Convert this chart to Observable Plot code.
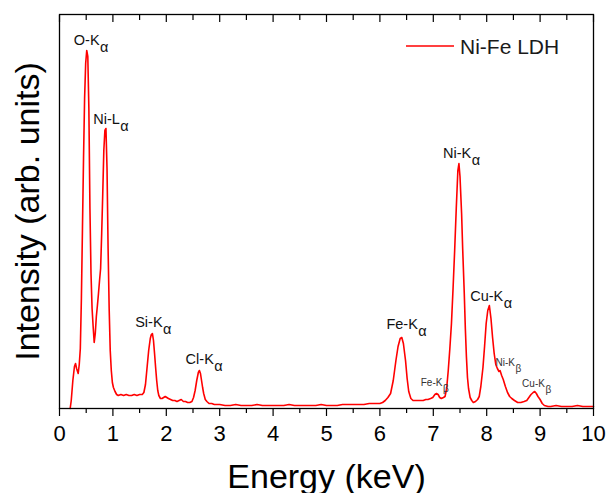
<!DOCTYPE html>
<html>
<head>
<meta charset="utf-8">
<script src="https://cdn.jsdelivr.net/npm/d3@7"></script>
<script src="https://cdn.jsdelivr.net/npm/@observablehq/plot@0.6"></script>
<style>
  html, body { margin: 0; padding: 0; background: #fff; }
  #chart svg { display: block; }
</style>
</head>
<body>
<div id="chart"></div>
<script>
// ---- Data (energy in keV, intensity in arb. units) ----
const energy = [
  0.20, 0.22, 0.25, 0.28, 0.30, 0.32, 0.35, 0.37, 0.39, 0.41, 0.43, 0.45, 0.47, 0.49, 0.51, 0.53, 0.55, 0.57, 0.59,
  0.61, 0.63, 0.65, 0.67, 0.69, 0.71, 0.73, 0.75, 0.77, 0.79, 0.81, 0.83, 0.85, 0.87, 0.89, 0.91, 0.93, 0.95, 0.97,
  0.99, 1.01, 1.04, 1.07, 1.10, 1.15, 1.20, 1.25, 1.30, 1.35, 1.40, 1.45, 1.50, 1.55, 1.58, 1.61, 1.64, 1.67, 1.70,
  1.72, 1.74, 1.76, 1.78, 1.80, 1.82, 1.84, 1.86, 1.89, 1.92, 1.95, 1.98, 2.01, 2.04, 2.08, 2.12, 2.16, 2.20, 2.24,
  2.28, 2.32, 2.36, 2.40, 2.44, 2.48, 2.51, 2.54, 2.57, 2.60, 2.62, 2.64, 2.66, 2.68, 2.70, 2.73, 2.76, 2.80, 2.85,
  2.90, 3.00, 3.10, 3.20, 3.30, 3.40, 3.50, 3.60, 3.70, 3.80, 3.90, 4.00, 4.10, 4.20, 4.30, 4.40, 4.50, 4.60, 4.70,
  4.80, 4.90, 5.00, 5.10, 5.20, 5.30, 5.40, 5.50, 5.60, 5.70, 5.80, 5.90, 6.00, 6.05, 6.10, 6.15, 6.20, 6.25, 6.30,
  6.34, 6.38, 6.41, 6.44, 6.48, 6.51, 6.54, 6.58, 6.62, 6.66, 6.71, 6.76, 6.81, 6.86, 6.90, 6.95, 6.99, 7.03, 7.06,
  7.09, 7.12, 7.15, 7.19, 7.22, 7.25, 7.28, 7.31, 7.34, 7.37, 7.40, 7.43, 7.46, 7.48, 7.50, 7.53, 7.55, 7.58, 7.60,
  7.62, 7.64, 7.66, 7.69, 7.72, 7.75, 7.79, 7.83, 7.86, 7.89, 7.93, 7.96, 7.99, 8.02, 8.05, 8.08, 8.11, 8.14, 8.17,
  8.20, 8.23, 8.25, 8.28, 8.31, 8.35, 8.39, 8.43, 8.47, 8.52, 8.58, 8.64, 8.70, 8.75, 8.79, 8.83, 8.87, 8.90, 8.93,
  8.96, 9.00, 9.04, 9.08, 9.15, 9.20, 9.30, 9.40, 9.50, 9.60, 9.70, 9.80, 9.90, 10.00
];
const intensity = [
  0, 8, 28, 42, 45, 40, 35, 44, 60, 110, 180, 250, 310, 345, 358, 352, 300, 200, 135,
  100, 82, 66, 75, 92, 103, 115, 128, 140, 175, 215, 258, 278, 280, 240, 160, 100, 58, 38,
  26, 21, 17, 14, 13, 14, 13, 14, 13, 13, 14, 13, 14, 14, 16, 24, 41, 58, 70,
  74, 75, 68, 55, 41, 28, 18, 13, 10, 10, 11, 12, 11, 10, 9, 8, 8, 7, 8,
  9, 7, 7, 6, 6, 7, 11, 18, 28, 36, 38, 35, 28, 21, 15, 9, 7, 5, 5,
  4, 4, 3, 3, 4, 3, 3, 3, 4, 3, 3, 3, 3, 3, 4, 3, 3, 3, 3,
  3, 4, 3, 3, 3, 4, 4, 4, 4, 4, 5, 5, 5, 6, 8, 11, 15, 28, 48,
  62, 70, 71, 65, 48, 30, 17, 10, 8, 8, 8, 8, 8, 9, 9, 10, 11, 14, 15,
  14, 11, 10, 11, 12, 20, 38, 60, 85, 120, 158, 200, 238, 245, 232, 195, 160, 115, 80,
  52, 31, 20, 11, 8, 6, 7, 9, 12, 22, 41, 62, 85, 98, 103, 90, 71, 55, 44,
  40, 37, 38, 33, 29, 22, 16, 12, 10, 8, 6, 6, 7, 8, 11, 14, 16, 17, 15,
  12, 9, 5, 3, 2, 2, 3, 2, 2, 2, 3, 2, 2, 2
];
const seriesName = "Ni-Fe LDH";

const xTicks = [0, 1, 2, 3, 4, 5, 6, 7, 8, 9, 10];
const xMinorTicks = [0.5, 1.5, 2.5, 3.5, 4.5, 5.5, 6.5, 7.5, 8.5, 9.5];

// Peak annotations: main text, subscript, anchor (energy, intensity) of the label
const alphaNames = ["O-K", "Ni-L", "Si-K", "Cl-K", "Fe-K", "Ni-K", "Cu-K"];
const alphaSub = ["α", "α", "α", "α", "α", "α", "α"];
const alphaEnergy = [0.75, 1.13, 1.93, 2.89, 6.71, 7.71, 8.31];
const alphaIntensity = [364, 285, 82, 45, 80, 251, 108];

const betaNames = ["Fe-K", "Ni-K", "Cu-K"];
const betaSub = ["β", "β", "β"];
const betaEnergy = [7.17, 8.53, 9.09];
const betaIntensity = [23, 43, 22];

const xLabel = "Energy (keV)";
const yLabel = "Intensity (arb. units)";

// ---- Build ----
const spectrum = energy.map((e, i) => ({energy: e, intensity: intensity[i]}));
const alphaIdx = d3.range(alphaNames.length);
const betaIdx = d3.range(betaNames.length);

const FONT = "'Liberation Sans', Arial, Helvetica, sans-serif";

function legend(index, scales, values, dims) {
  const right = dims.width - dims.marginRight;
  const g = d3.create("svg:g");
  g.append("line")
    .attr("x1", right - 187).attr("x2", right - 139)
    .attr("y1", dims.marginTop + 32).attr("y2", dims.marginTop + 32)
    .attr("stroke", "#ff0000").attr("stroke-width", 1.6);
  g.append("text")
    .attr("x", right - 133).attr("y", dims.marginTop + 40)
    .attr("text-anchor", "start")
    .attr("font-size", 21).attr("fill", "#1a1a1a")
    .attr("font-family", FONT)
    .text(seriesName);
  return g.node();
}

const chart = Plot.plot({
  width: 606,
  height: 493,
  marginLeft: 59,
  marginRight: 13,
  marginTop: 14,
  marginBottom: 85,
  x: {domain: [0, 10]},
  y: {domain: [0, 394], axis: null},
  style: {fontFamily: FONT, background: "#fff", color: "#000", overflow: "visible"},
  marks: [
    Plot.line(spectrum, {x: "energy", y: "intensity", stroke: "#ff0000", strokeWidth: 1.6}),
    Plot.axisX({ticks: xTicks, tickSize: 8, tickPadding: 9, fontSize: 22, label: null, tickFormat: d => String(d), strokeWidth: 1.2}),
    Plot.axisX({ticks: xMinorTicks, tickSize: 5, text: null, label: null, strokeWidth: 1.2}),
    Plot.axisX({anchor: "top", ticks: xTicks, tickSize: -7, text: null, label: null, strokeWidth: 1.2}),
    Plot.axisX({anchor: "top", ticks: xMinorTicks, tickSize: -5, text: null, label: null, strokeWidth: 1.2}),
    Plot.frame({stroke: "#000", strokeWidth: 1.3}),
    // alpha labels
    Plot.text(alphaIdx, {x: i => alphaEnergy[i], y: i => alphaIntensity[i], text: i => alphaNames[i],
      textAnchor: "end", lineAnchor: "bottom", fontSize: 14.5, fill: "#111"}),
    Plot.text(alphaIdx, {x: i => alphaEnergy[i], y: i => alphaIntensity[i], text: i => alphaSub[i],
      textAnchor: "start", lineAnchor: "bottom", dy: 7, dx: 0.5, fontSize: 14.5, fill: "#111"}),
    // beta labels
    Plot.text(betaIdx, {x: i => betaEnergy[i], y: i => betaIntensity[i], text: i => betaNames[i],
      textAnchor: "end", lineAnchor: "bottom", fontSize: 10, fill: "#333"}),
    Plot.text(betaIdx, {x: i => betaEnergy[i], y: i => betaIntensity[i], text: i => betaSub[i],
      textAnchor: "start", lineAnchor: "bottom", dy: 6, dx: 0.5, fontSize: 10, fill: "#333"}),
    // axis titles
    Plot.text([xLabel], {frameAnchor: "bottom", lineAnchor: "bottom", dy: 79, fontSize: 34, fill: "#000"}),
    Plot.text([yLabel], {frameAnchor: "left", textAnchor: "middle", rotate: -90, dx: -31, fontSize: 34, fill: "#000"}),
    legend
  ]
});
document.getElementById("chart").appendChild(chart);
</script>
</body>
</html>
